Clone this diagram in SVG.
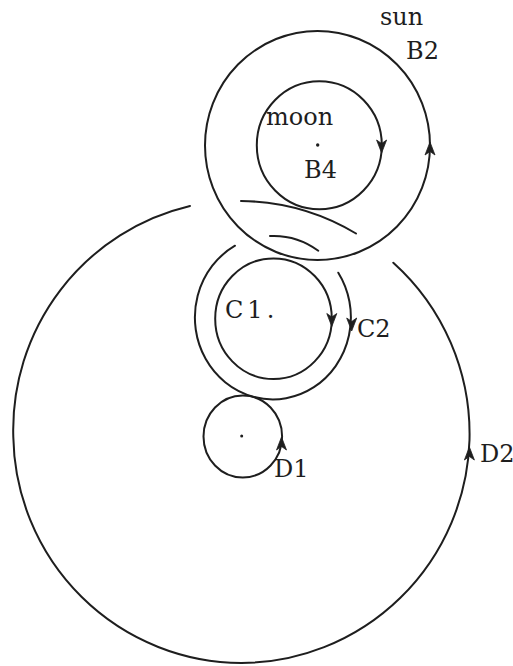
<svg xmlns="http://www.w3.org/2000/svg" xmlns:xlink="http://www.w3.org/1999/xlink" width="513" height="666" viewBox="0 0 513 666">
<style>
.ln{fill:none;stroke:#1e1e1e;stroke-width:2;stroke-linecap:round}
.ah{fill:#1e1e1e;stroke:#1e1e1e;stroke-width:0.8;stroke-linejoin:round}
.dot{fill:#1e1e1e}
.lb{font-family:"DejaVu Serif","Liberation Serif",serif;font-size:24px;fill:#1e1e1e}
</style>
<defs>
<path id="up" class="ah" d="M0,0 L-5,13 L0,9.5 L5,13 Z"/>
</defs>
<rect width="513" height="666" fill="#fff"/>
<g id="B2">
<ellipse class="ln" cx="317.5" cy="145.5" rx="112.5" ry="114.5"/>
<use xlink:href="#up" transform="translate(430,142)"/>
<text class="lb" x="380" y="25">sun</text>
<text class="lb" x="406" y="59">B2</text>
</g>
<g id="B4">
<ellipse class="ln" cx="319.3" cy="145.2" rx="62.5" ry="64"/>
<use xlink:href="#up" transform="translate(381.6,153) rotate(180)"/>
<circle class="dot" cx="317.7" cy="145" r="1.7"/>
<text class="lb" x="266" y="125">moon</text>
<text class="lb" x="304" y="178">B4</text>
</g>
<g id="C1">
<ellipse class="ln" cx="273.5" cy="318.7" rx="58.3" ry="60.3"/>
<use xlink:href="#up" transform="translate(331.8,326.5) rotate(180)"/>
<text class="lb" x="225" y="318" letter-spacing="4">C1.</text>
</g>
<g id="C2">
<path class="ln" d="M270,236 A78 82 0 0 1 318.3,250.7"/>
<path class="ln" d="M338.3,272.7 A78 82 0 1 1 235,245.7"/>
<use xlink:href="#up" transform="translate(351.7,331) rotate(180)"/>
<text class="lb" x="357" y="337">C2</text>
</g>
<g id="D1">
<ellipse class="ln" cx="242.8" cy="436.5" rx="39.3" ry="41"/>
<use xlink:href="#up" transform="translate(281.5,437)"/>
<circle class="dot" cx="241.7" cy="436" r="1.5"/>
<text class="lb" x="274" y="477">D1</text>
</g>
<g id="D2">
<path class="ln" d="M241,201 A229 230 0 0 1 356,233.5"/>
<path class="ln" d="M393.3,262.7 A229 230 0 0 1 469.5,440 A229 230 0 0 1 241.5,663 A229 230 0 0 1 13.3,437 A229 230 0 0 1 190,206"/>
<use xlink:href="#up" transform="translate(469.4,447)"/>
<text class="lb" x="480" y="462">D2</text>
</g>
<g id="connectors"/>
</svg>
